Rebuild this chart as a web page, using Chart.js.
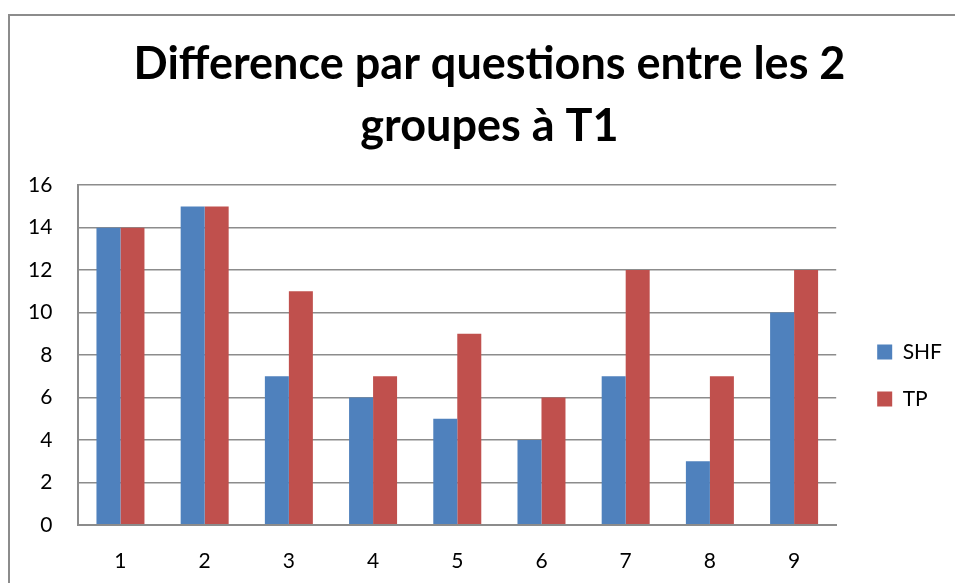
<!DOCTYPE html>
<html>
<head>
<meta charset="utf-8">
<script src="https://cdn.jsdelivr.net/npm/chart.js@4"></script>
<style>
  body { margin: 0; background: #fff; overflow: hidden; }
  #frame {
    position: absolute; left: 8px; top: 14px; width: 1000px; height: 600px;
    border-left: 2px solid #8c8c8c; border-top: 2px solid #8c8c8c;
  }
  #wrap { position: absolute; left: 0; top: 0; width: 955px; height: 583px; }
</style>
</head>
<body>
<div id="frame"></div>
<div id="wrap"><canvas id="chart"></canvas></div>
<script>
// values
const questions = ['1', '2', '3', '4', '5', '6', '7', '8', '9'];
const shf = [14, 15, 7, 6, 5, 4, 7, 3, 10];
const tp = [14, 15, 11, 7, 9, 6, 12, 7, 12];
const yTicks = [0, 2, 4, 6, 8, 10, 12, 14, 16];

// nudge legend and title to where Excel put them
const nudge = {
    id: 'nudge',
    afterLayout(chart) {
        const lg = chart.legend;
        lg.top += 60;
        lg.bottom += 60;
        lg.left += 15;
        lg.right += 15;
        const t = chart.titleBlock;
        t.left += 20;
        t.right += 20;
    }
};

const ctx = document.getElementById('chart').getContext('2d');
new Chart(ctx, {
    type: 'bar',
    data: {
        labels: questions,
        datasets: [
            { label: 'SHF', data: shf, backgroundColor: '#4F81BD' },
            { label: 'TP', data: tp, backgroundColor: '#C0504D' }
        ]
    },
    options: {
        responsive: true,
        maintainAspectRatio: false,
        animation: false,
        categoryPercentage: 0.57,
        barPercentage: 1,
        layout: { padding: { left: 2, right: 18, top: 33, bottom: -15 } },
        plugins: {
            title: {
                display: true,
                text: ['Difference par questions entre les 2', 'groupes à T1'],
                color: '#000',
                font: { family: 'Lato', size: 45, weight: 'bold', lineHeight: 1.38 },
                padding: { top: 0, bottom: 28 }
            },
            legend: {
                position: 'right',
                align: 'center',
                labels: {
                    color: '#000',
                    font: { family: 'Lato', size: 21 },
                    boxWidth: 15,
                    boxHeight: 15,
                    padding: 26
                }
            },
            tooltip: { enabled: false }
        },
        scales: {
            x: {
                grid: { display: false, drawTicks: false },
                border: { display: true, color: '#8c8c8c', width: 2 },
                ticks: { color: '#000', font: { family: 'Lato', size: 21 }, padding: 24 }
            },
            y: {
                min: 0,
                max: 16,
                afterBuildTicks: axis => { axis.ticks = yTicks.map(v => ({ value: v })); },
                grid: { color: '#8c8c8c', lineWidth: 1.5, drawTicks: false },
                border: { display: true, color: '#8c8c8c', width: 2 },
                ticks: { color: '#000', font: { family: 'Lato', size: 21 }, padding: 26 }
            }
        }
    },
    plugins: [nudge]
});
</script>
</body>
</html>
